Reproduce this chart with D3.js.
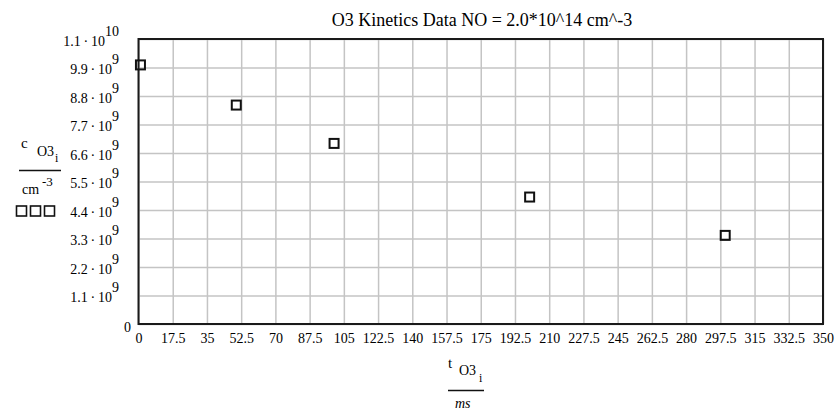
<!DOCTYPE html>
<html>
<head>
<meta charset="utf-8">
<script src="https://cdn.jsdelivr.net/npm/d3@7"></script>
<style>
  html, body { margin: 0; padding: 0; background: #fff; }
  svg { display: block; }
  svg text { font-family: 'Liberation Serif', 'DejaVu Serif', 'Times New Roman', Times, serif !important; fill: #000; }
</style>
</head>
<body>
<svg id="chart" width="839" height="411"></svg>
<script>
// ---- data ----
const titleText = "O3 Kinetics Data NO = 2.0*10^14 cm^-3";
const tValues = [1, 50, 100, 200, 300];               // t O3_i (ms)
const cValues = [1.0e10, 8.45e9, 6.97e9, 4.9e9, 3.42e9]; // c O3_i (cm^-3)
const xTickValues = [0, 17.5, 35, 52.5, 70, 87.5, 105, 122.5, 140, 157.5, 175, 192.5, 210, 227.5, 245, 262.5, 280, 297.5, 315, 332.5, 350];
const xTickLabels = ["0", "17.5", "35", "52.5", "70", "87.5", "105", "122.5", "140", "157.5", "175", "192.5", "210", "227.5", "245", "262.5", "280", "297.5", "315", "332.5", "350"];
const yTickValues = [0, 1.1e9, 2.2e9, 3.3e9, 4.4e9, 5.5e9, 6.6e9, 7.7e9, 8.8e9, 9.9e9, 1.1e10];
const yTickMantissa = ["0", "1.1", "2.2", "3.3", "4.4", "5.5", "6.6", "7.7", "8.8", "9.9", "1.1"];
const yTickExponent = ["", "9", "9", "9", "9", "9", "9", "9", "9", "9", "10"];

// ---- layout ----
const L = 138.5, R = 823, T = 39, B = 324;
const svg = d3.select("#chart");
const x = d3.scaleLinear().domain([0, 350]).range([L, R]);
const y = d3.scaleLinear().domain([0, 1.1e10]).range([B, T]);

// grid via axes
const gx = svg.append("g").attr("transform", `translate(0,${B})`)
  .call(d3.axisBottom(x).tickValues(xTickValues).tickSize(-(B - T)).tickFormat((d, i) => xTickLabels[i]));
gx.attr("font-family", null).attr("font-size", null);
gx.select(".domain").remove();
gx.selectAll(".tick line").attr("stroke", "#c4c4c4").attr("stroke-width", 1.5);
gx.selectAll(".tick text").attr("y", 19).attr("dy", null)
  .style("font-size", "14px").attr("fill", "#000");

const gy = svg.append("g").attr("transform", `translate(${L},0)`)
  .call(d3.axisLeft(y).tickValues(yTickValues).tickSize(-(R - L)).tickFormat(""));
gy.attr("font-family", null).attr("font-size", null);
gy.select(".domain").remove();
gy.selectAll(".tick line").attr("stroke", "#c4c4c4").attr("stroke-width", 1.5);
gy.selectAll(".tick text").each(function (d, i) {
  const t = d3.select(this).attr("dy", null).attr("x", null)
    .style("font-size", "14px")
    .attr("fill", "#000").attr("text-anchor", "end").text(null);
  if (i === 0) {
    t.attr("x", 131 - L).attr("y", 7).text(yTickMantissa[i]);
  } else {
    t.attr("x", 119 - L).attr("y", 6);
    t.append("tspan").text(yTickMantissa[i] + "\u2009\u00B7\u200910");
    t.append("tspan").attr("dy", -10).text(yTickExponent[i]);
  }
});

// plot border
svg.append("rect").attr("x", L).attr("y", T).attr("width", R - L).attr("height", B - T)
  .attr("fill", "none").attr("stroke", "#1a1a1a").attr("stroke-width", 2);

// markers
const ms = 9;
svg.append("g").selectAll("rect").data(tValues).join("rect")
  .attr("x", (d) => x(d) - ms / 2)
  .attr("y", (d, i) => y(cValues[i]) - ms / 2)
  .attr("width", ms).attr("height", ms)
  .attr("fill", "none").attr("stroke", "#111").attr("stroke-width", 2);

// title
svg.append("text").attr("x", 482).attr("y", 26).attr("text-anchor", "middle")
  .style("font-size", "18px").text(titleText);

// y axis label
const yl = svg.append("g");
yl.append("text").attr("x", 21).attr("y", 148).style("font-size", "15px").text("c");
yl.append("text").attr("x", 37).attr("y", 156).style("font-size", "14px").text("O3");
yl.append("text").attr("x", 55).attr("y", 162).style("font-size", "12px").text("i");
yl.append("line").attr("x1", 19).attr("x2", 61).attr("y1", 170.5).attr("y2", 170.5)
  .attr("stroke", "#111").attr("stroke-width", 1.5);
yl.append("text").attr("x", 22).attr("y", 194).style("font-size", "14px").text("cm");
yl.append("text").attr("x", 42).attr("y", 186).style("font-size", "13px").text("-3");
[21.5, 35.5, 49.5].forEach((cx) => {
  yl.append("rect").attr("x", cx - 5).attr("y", 206).attr("width", 10).attr("height", 10)
    .attr("fill", "none").attr("stroke", "#111").attr("stroke-width", 1.6);
});

// x axis label
const xl = svg.append("g");
xl.append("text").attr("x", 448).attr("y", 368).style("font-size", "15px").text("t");
xl.append("text").attr("x", 459).attr("y", 375).style("font-size", "14px").text("O3");
xl.append("text").attr("x", 479).attr("y", 382).style("font-size", "12px").text("i");
xl.append("line").attr("x1", 448).attr("x2", 484).attr("y1", 390.5).attr("y2", 390.5)
  .attr("stroke", "#111").attr("stroke-width", 1.5);
xl.append("text").attr("x", 455).attr("y", 408).style("font-size", "14px").style("font-style", "italic").text("ms");
</script>
</body>
</html>
